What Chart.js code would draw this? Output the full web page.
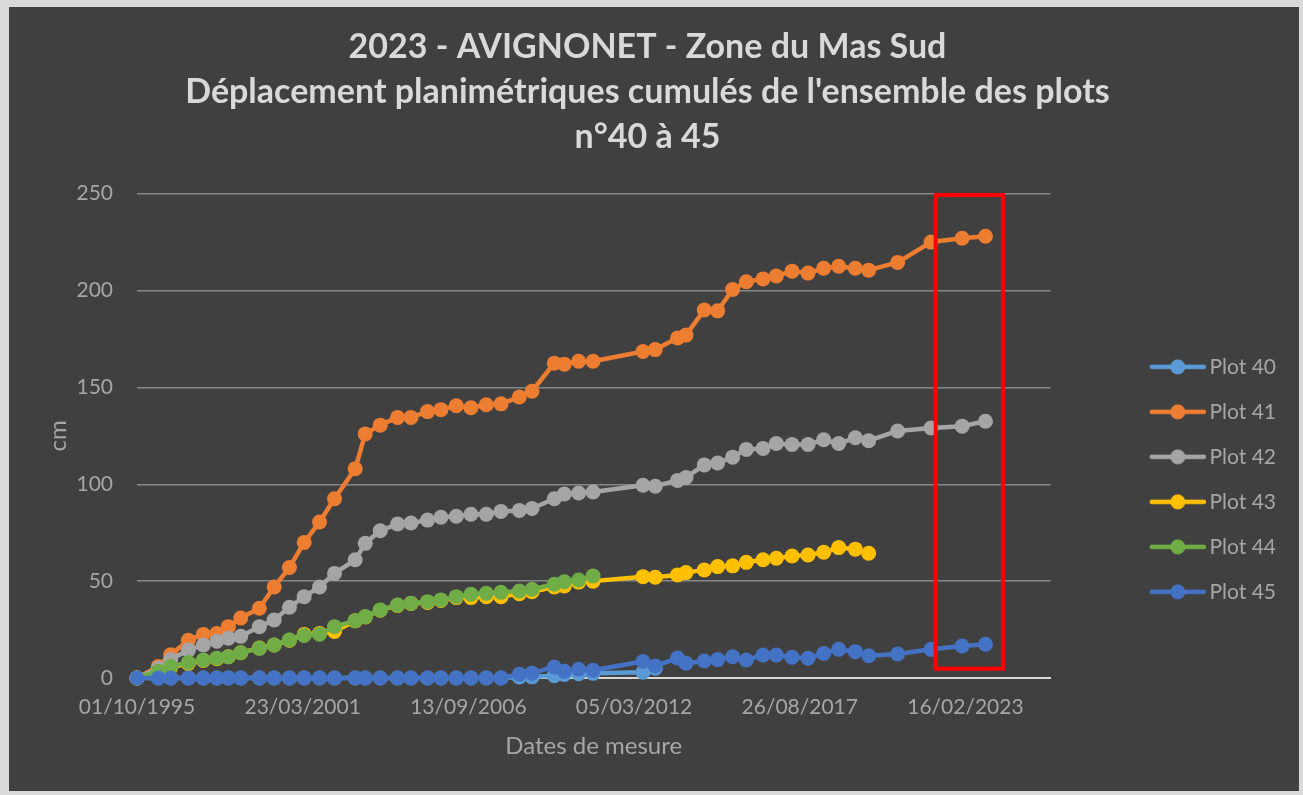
<!DOCTYPE html>
<html lang="fr">
<head>
<meta charset="utf-8">
<title>2023 - AVIGNONET - Zone du Mas Sud</title>
<script src="https://cdn.jsdelivr.net/npm/chart.js@4.4.1/dist/chart.umd.min.js"></script>
<style>
  html, body { margin: 0; padding: 0; background: #d9d9d9; }
  #cadre { position: absolute; left: 9px; top: 7px; width: 1290px; height: 784px; background: #404040; }
  canvas { display: block; }
</style>
</head>
<body>
<div id="cadre"><canvas id="graphique" width="1290" height="784"></canvas></div>
<script>
// Dates de mesure (jj/mm/aaaa)
const dates = [
  '01/10/1995', '14/06/1996', '11/11/1996', '12/06/1997', '10/12/1997', '21/05/1998',
  '08/10/1998', '06/03/1999', '17/10/1999', '13/04/2000', '14/10/2000', '10/04/2001',
  '12/10/2001', '11/04/2002', '17/12/2002', '17/04/2003', '15/10/2003', '11/05/2004',
  '20/10/2004', '08/05/2005', '17/10/2005', '20/04/2006', '14/10/2006', '17/04/2007',
  '12/10/2007', '20/05/2008', '20/10/2008', '16/07/2009', '14/11/2009', '06/05/2010',
  '27/10/2010', '21/06/2012', '16/11/2012', '12/08/2013', '22/11/2013', '01/07/2014',
  '09/12/2014', '08/06/2015', '20/11/2015', '09/06/2016', '16/11/2016', '25/05/2017',
  '04/12/2017', '11/06/2018', '09/12/2018', '28/06/2019', '06/12/2019', '20/11/2020',
  '28/12/2021', '07/01/2023', '16/10/2023'
];

// Déplacements cumulés (cm)
const plot40 = [0, 0, 0, 0, 0, 0, 0, 0, 0, 0, 0, 0, 0, 0, 0, 0, 0, 0, 0, 0, 0, 0, 0, 0, 0,
  0.5, 0.6, 1.2, 1.8, 2.2, 2.4, 3, 5];
const plot41 = [0, 6, 12, 19.5, 22.5, 23, 26.5, 31, 36, 47, 57, 70, 80.5, 92.5, 108, 126, 130.5,
  134.5, 134.5, 137.5, 138.5, 140.5, 139.5, 141, 141.5, 145, 148, 162.5, 162, 163.5, 163.5,
  168.5, 169.5, 175.5, 177, 190, 189.5, 200.5, 204.5, 206, 207.5, 210, 209, 211.5, 212.5,
  211.5, 210.5, 214.5, 225, 227, 228];
const plot42 = [0, 5, 9.5, 14.5, 17, 19, 20.5, 21.5, 26.5, 30, 36.5, 42, 47, 54, 61, 69.5, 76,
  79.5, 80, 81.5, 83, 83.5, 84.5, 84.5, 86, 86.5, 87.5, 92.5, 95, 95.5, 96, 99.5, 99, 102,
  103.5, 110, 111, 114, 118, 118.5, 121, 120.5, 120.5, 123, 121, 124, 122.5, 127.5, 129, 130, 132.5];
const plot43 = [0, 3, 5.5, 7.5, 9, 10, 11, 13, 15.5, 17, 19.5, 22.5, 23, 24, 29.5, 31.5, 35,
  37.5, 38.5, 39, 40, 41.5, 41.5, 42, 42, 43.5, 44.5, 47, 47.5, 49.5, 50, 52.3, 52, 53.2,
  54.4, 55.8, 57.5, 57.9, 59.7, 61, 61.8, 63, 63.5, 64.9, 67.3, 66.5, 64.4];
const plot44 = [0, 3.5, 6, 8, 9.3, 10.2, 11, 13, 15.3, 17, 19.6, 21.9, 22.6, 26.5, 29.6, 31.7,
  35.1, 37.7, 38.6, 39.4, 40.3, 42, 43.2, 43.7, 44.2, 44.9, 45.8, 48.4, 49.7, 50.6, 52.7];
const plot45 = [0, 0, 0, 0, 0, 0, 0, 0, 0, 0, 0, 0, 0, 0, 0, 0, 0, 0, 0, 0, 0, 0, 0, 0, 0,
  2, 2.5, 5.7, 3.5, 4.5, 4, 8.5, 6.2, 10.3, 7.6, 8.8, 9.5, 11, 9.3, 11.9, 11.9, 10.7, 10.2,
  12.7, 14.8, 13.6, 11.5, 12.4, 14.8, 16.5, 17.4];

const xTickLabels = ['01/10/1995', '23/03/2001', '13/09/2006', '05/03/2012', '26/08/2017', '16/02/2023'];
const xAxisEnd = '09/12/2025';
const yMax = 250;
const yStep = 50;

// Cadre rouge (dernières mesures)
const cadreRouge = { from: '22/02/2022', to: '13/05/2024', yMin: 4.8, yMax: 249.3 };

const titre = [
  '2023 - AVIGNONET - Zone du Mas Sud',
  "Déplacement planimétriques cumulés de l'ensemble des plots",
  'n°40 à 45'
];

// jours depuis la première date de l'axe
function jours(s) {
  const [d, m, y] = s.split('/').map(Number);
  const [d0, m0, y0] = xTickLabels[0].split('/').map(Number);
  return (Date.UTC(y, m - 1, d) - Date.UTC(y0, m0 - 1, d0)) / 86400000;
}
const xTickDays = xTickLabels.map(jours);

const series = [
  { label: 'Plot 40', values: plot40, color: '#5B9BD5' },
  { label: 'Plot 41', values: plot41, color: '#ED7D31' },
  { label: 'Plot 42', values: plot42, color: '#A5A5A5' },
  { label: 'Plot 43', values: plot43, color: '#FFC000' },
  { label: 'Plot 44', values: plot44, color: '#70AD47' },
  { label: 'Plot 45', values: plot45, color: '#4472C4' }
];

// petite icone de légende : trait + rond (style Excel)
function iconeLegende(color) {
  const c = document.createElement('canvas');
  c.width = 138;
  c.height = 18;
  const g = c.getContext('2d');
  g.strokeStyle = color;
  g.lineWidth = 4.5;
  g.lineCap = 'round';
  g.beginPath();
  g.moveTo(84, 9);
  g.lineTo(136, 9);
  g.stroke();
  g.fillStyle = color;
  g.beginPath();
  g.arc(110, 9, 7.5, 0, Math.PI * 2);
  g.fill();
  return c;
}

const cadrePlugin = {
  id: 'cadreRouge',
  afterDatasetsDraw(chart) {
    const { ctx, scales: { x, y } } = chart;
    const x1 = x.getPixelForValue(jours(cadreRouge.from));
    const x2 = x.getPixelForValue(jours(cadreRouge.to));
    const y1 = y.getPixelForValue(cadreRouge.yMax);
    const y2 = y.getPixelForValue(cadreRouge.yMin);
    ctx.save();
    ctx.strokeStyle = '#ff0000';
    ctx.lineWidth = 4;
    ctx.strokeRect(x1, y1, x2 - x1, y2 - y1);
    ctx.restore();
  }
};

Chart.defaults.font.family = 'Lato, "Open Sans", sans-serif';
Chart.defaults.color = '#a6a6a6';

const labelFont = { size: 21 };
const axisTitleFont = { size: 24 };

new Chart(document.getElementById('graphique'), {
  type: 'line',
  data: {
    datasets: series.map((s, k) => ({
      label: s.label,
      data: s.values.map((v, i) => ({ x: jours(dates[i]), y: v })),
      borderColor: s.color,
      backgroundColor: s.color,
      borderWidth: 4.5,
      borderJoinStyle: 'round',
      borderCapStyle: 'round',
      pointRadius: 7.5,
      pointBorderWidth: 0,
      pointHoverRadius: 7.5,
      tension: 0,
      clip: false,
      order: -k   // les derniers plots dessinés par-dessus, comme dans Excel
    }))
  },
  options: {
    responsive: false,
    animation: false,
    events: [],
    layout: { padding: { left: 0, right: 13, top: 0, bottom: 0 } },
    scales: {
      x: {
        type: 'linear',
        min: 0,
        max: jours(xAxisEnd),
        grid: { display: false, drawTicks: false },
        border: { display: true, color: '#d9d9d9', width: 2 },
        afterBuildTicks: scale => { scale.ticks = xTickDays.map(v => ({ value: v })); },
        afterFit: scale => { scale.height = 113; },
        ticks: {
          autoSkip: false,
          maxRotation: 0,
          padding: 17,
          font: labelFont,
          callback: value => {
            const i = xTickDays.indexOf(value);
            return i >= 0 ? xTickLabels[i] : '';
          }
        },
        title: {
          display: true,
          text: 'Dates de mesure',
          font: axisTitleFont,
          padding: { top: 0, bottom: 30 }
        }
      },
      y: {
        min: 0,
        max: yMax,
        grid: { color: '#878787', lineWidth: 1.5, drawTicks: false },
        border: { display: false },
        afterFit: scale => { scale.width = 128; },
        ticks: { stepSize: yStep, padding: 24, font: labelFont },
        title: {
          display: true,
          text: 'cm',
          font: axisTitleFont,
          padding: { top: 35, bottom: 0 }
        }
      }
    },
    plugins: {
      title: {
        display: true,
        text: titre,
        color: '#d9d9d9',
        font: { size: 34, weight: 'bold', lineHeight: 1.32 },
        padding: { top: 18, bottom: 34 }
      },
      legend: {
        position: 'right',
        fullSize: false,
        title: { display: true, text: ' ', font: { size: 10 }, padding: { top: 75, bottom: 0 } },
        labels: {
          usePointStyle: true,
          pointStyleWidth: 124.5,
          padding: 24,
          font: labelFont,
          color: '#a6a6a6',
          sort: (a, b) => a.datasetIndex - b.datasetIndex,
          generateLabels: chart => Chart.defaults.plugins.legend.labels.generateLabels(chart)
            .map(item => ({ ...item, pointStyle: iconeLegende(series[item.datasetIndex].color) }))
        }
      },
      tooltip: { enabled: false }
    }
  },
  plugins: [cadrePlugin]
});
</script>
</body>
</html>
